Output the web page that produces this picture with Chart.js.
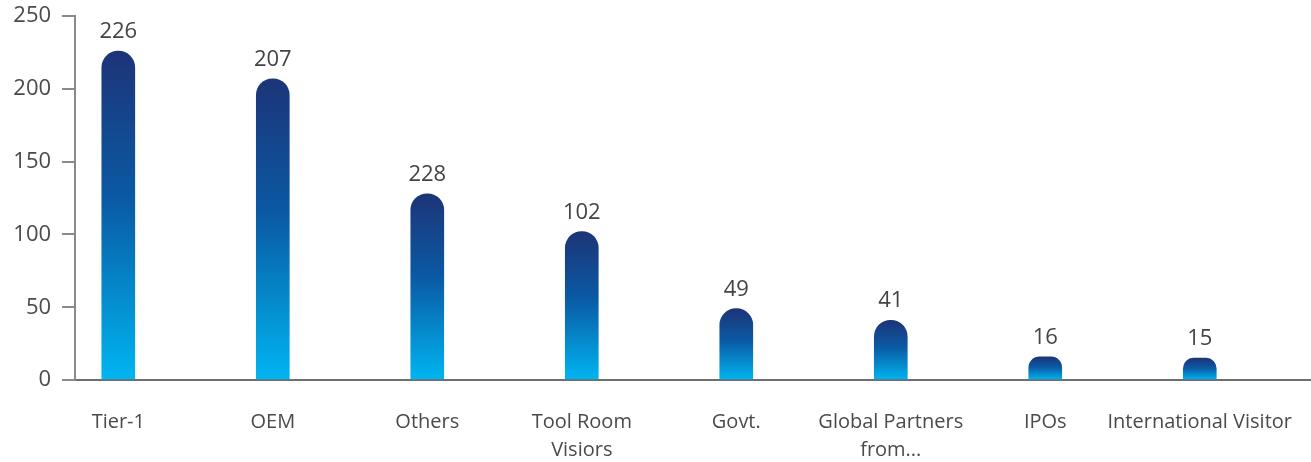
<!DOCTYPE html>
<html>
<head>
<meta charset="utf-8">
<script src="https://cdn.jsdelivr.net/npm/chart.js@4/dist/chart.umd.min.js"></script>
<style>
  html, body { margin: 0; padding: 0; background: #ffffff; }
  #wrap { width: 1311px; height: 462px; position: relative; }
</style>
</head>
<body>
<div id="wrap"><canvas id="c" width="1311" height="462"></canvas></div>
<script>
const categories = ["Tier-1", "OEM", "Others", ["Tool Room", "Visiors"], "Govt.", ["Global Partners", "from..."], "IPOs", "International Visitor"];
const barValues = [226, 207, 128, 102, 49, 41, 16, 15];
const valueLabels = ["226", "207", "228", "102", "49", "41", "16", "15"];
const yTicks = [0, 50, 100, 150, 200, 250];

const FONT = "'Open Sans', 'Noto Sans', sans-serif";

const points = barValues.map((v, i) => ({ x: i, y: v }));

function barGradient(ctx) {
  const chart = ctx.chart;
  if (!chart.chartArea || !chart.scales.y) return '#0b5fa5';
  const ys = chart.scales.y;
  const v = ctx.raw ? ctx.raw.y : 0;
  const top = ys.getPixelForValue(v);
  const bottom = ys.getPixelForValue(0);
  if (!isFinite(top) || !isFinite(bottom) || bottom - top < 1) return '#0b5fa5';
  const g = chart.ctx.createLinearGradient(0, top, 0, bottom);
  g.addColorStop(0, '#1d3478');
  g.addColorStop(0.45, '#0a5aa4');
  g.addColorStop(1, '#00b5f1');
  return g;
}

const valueLabelPlugin = {
  id: 'valueLabels',
  afterDatasetsDraw(chart) {
    const c = chart.ctx;
    const meta = chart.getDatasetMeta(0);
    c.save();
    c.font = "22px " + FONT;
    c.fillStyle = '#444444';
    c.textAlign = 'center';
    c.textBaseline = 'alphabetic';
    meta.data.forEach((bar, i) => {
      c.fillText(valueLabels[i], bar.x, bar.y - 13);
    });
    c.restore();
  }
};

new Chart(document.getElementById('c'), {
  type: 'bar',
  data: {
    datasets: [{
      data: points,
      backgroundColor: barGradient,
      borderWidth: 0,
      borderSkipped: 'bottom',
      borderRadius: { topLeft: 17, topRight: 17, bottomLeft: 0, bottomRight: 0 },
      barThickness: 33
    }]
  },
  options: {
    responsive: false,
    animation: false,
    events: [],
    layout: { padding: { left: 2.3, right: 0, top: 0, bottom: 0 } },
    plugins: {
      legend: { display: false },
      tooltip: { enabled: false },
      title: { display: false }
    },
    scales: {
      x: {
        type: 'linear',
        offset: false,
        min: -0.28,
        max: 7.72,
        afterBuildTicks(scale) {
          scale.ticks = categories.map((_, i) => ({ value: i }));
        },
        afterFit(scale) {
          scale.height = 82;
          scale.paddingLeft = 0;
          scale.paddingRight = 0;
        },
        ticks: {
          autoSkip: false,
          maxRotation: 0,
          minRotation: 0,
          padding: 28,
          color: '#4a4a4a',
          font: { family: FONT, size: 20, lineHeight: 1.4 },
          callback: (v) => categories[v]
        },
        grid: { display: false, drawTicks: false },
        border: { display: true, color: '#6e6e6e', width: 2 }
      },
      y: {
        min: 0,
        max: 250,
        afterBuildTicks(scale) {
          scale.ticks = yTicks.map(v => ({ value: v }));
        },
        afterFit(scale) {
          scale.paddingTop = Math.max(0, scale.paddingTop - 8);
        },
        ticks: {
          padding: 11,
          color: '#4a4a4a',
          font: { family: FONT, size: 22 }
        },
        grid: {
          drawOnChartArea: false,
          drawTicks: true,
          tickLength: 13,
          color: '#8a8a8a',
          lineWidth: 2
        },
        border: { display: true, color: '#8a8a8a', width: 2 }
      }
    }
  },
  plugins: [valueLabelPlugin]
});
</script>
</body>
</html>
